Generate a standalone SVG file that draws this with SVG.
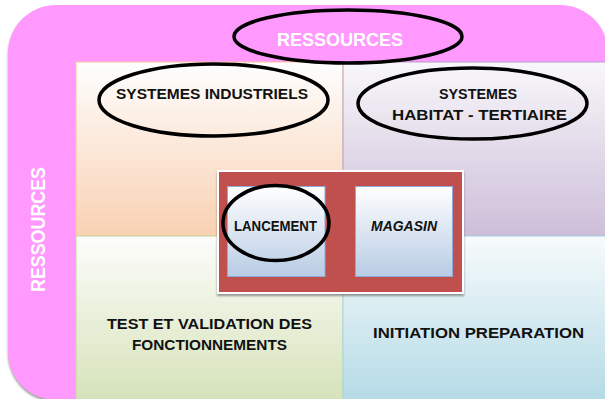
<svg xmlns="http://www.w3.org/2000/svg" width="605" height="399" viewBox="0 0 605 399">
  <style>
    .lbl { font-family: "Liberation Sans", Arial, sans-serif; font-weight: bold; font-size: 14px; fill: #111; text-anchor: middle; }
    .res { font-family: "Liberation Sans", Arial, sans-serif; font-weight: bold; fill: #ffffff; text-anchor: middle; }
    .ring { fill: none; stroke: #000; stroke-width: 3.5; }
    .box { stroke: #8eaadb; stroke-width: 1; }
  </style>
  <defs>
    <linearGradient id="gTL" x1="0" y1="0" x2="0" y2="1">
      <stop offset="0" stop-color="#fefefe"/>
      <stop offset="1" stop-color="#f9d1b2"/>
    </linearGradient>
    <linearGradient id="gTR" x1="0" y1="0" x2="0" y2="1">
      <stop offset="0" stop-color="#f8f7fa"/>
      <stop offset="1" stop-color="#cdbed9"/>
    </linearGradient>
    <linearGradient id="gBL" x1="0" y1="0" x2="0" y2="1">
      <stop offset="0" stop-color="#fdfdfc"/>
      <stop offset="1" stop-color="#d5e2b8"/>
    </linearGradient>
    <linearGradient id="gBR" x1="0" y1="0" x2="0" y2="1">
      <stop offset="0" stop-color="#f7fbfc"/>
      <stop offset="1" stop-color="#b4dae6"/>
    </linearGradient>
    <linearGradient id="gBox" x1="0" y1="0" x2="0" y2="1">
      <stop offset="0" stop-color="#ffffff"/>
      <stop offset="1" stop-color="#b8cce4"/>
    </linearGradient>
    <filter id="sh" x="-5%" y="-5%" width="110%" height="110%">
      <feDropShadow dx="0" dy="2" stdDeviation="1.2" flood-color="#555" flood-opacity="0.6"/>
    </filter>
  </defs>

  <rect width="605" height="399" fill="#ffffff"/>

  <!-- pink resources frame -->
  <g id="frame">
    <rect x="8" y="5" width="600" height="395" rx="48" ry="48" fill="#ff99fe" filter="url(#sh)"/>
  </g>

  <!-- quadrants -->
  <g id="q-tl">
    <rect x="76" y="62" width="267" height="174" fill="url(#gTL)" stroke="#f5c6a0" stroke-width="1"/>
  </g>
  <g id="q-tr">
    <rect x="343" y="62" width="265" height="174" fill="url(#gTR)" stroke="#b3a2c7" stroke-width="1"/>
  </g>
  <g id="q-bl">
    <rect x="76" y="236" width="267" height="166" fill="url(#gBL)" stroke="#c3d69b" stroke-width="1"/>
  </g>
  <g id="q-br">
    <rect x="343" y="236" width="265" height="166" fill="url(#gBR)" stroke="#a5d5e3" stroke-width="1"/>
  </g>

  <!-- top resources label -->
  <g id="ressources-top">
    <ellipse class="ring" cx="348" cy="36.5" rx="114" ry="26.5"/>
    <text class="res" x="340" y="46" font-size="18" textLength="126" lengthAdjust="spacingAndGlyphs">RESSOURCES</text>
  </g>

  <!-- left resources label -->
  <g id="ressources-left">
    <text class="res" transform="translate(45,229.5) rotate(-90)" x="0" y="0" font-size="21" font-weight="normal" textLength="125" lengthAdjust="spacingAndGlyphs">RESSOURCES</text>
  </g>

  <g id="systemes-industriels">
    <ellipse class="ring" cx="213.5" cy="100" rx="114.5" ry="36"/>
    <text class="lbl" x="212" y="99" textLength="192" lengthAdjust="spacingAndGlyphs">SYSTEMES INDUSTRIELS</text>
  </g>

  <g id="systemes-habitat">
    <ellipse class="ring" cx="472.5" cy="103.5" rx="114.5" ry="35.5"/>
    <text class="lbl" x="478" y="99" textLength="78" lengthAdjust="spacingAndGlyphs">SYSTEMES</text>
    <text class="lbl" x="479.5" y="120" textLength="175" lengthAdjust="spacingAndGlyphs">HABITAT - TERTIAIRE</text>
  </g>

  <!-- central block -->
  <g id="centre">
    <rect x="217" y="170" width="247" height="124" fill="#ffffff" filter="url(#sh)"/>
    <rect x="219" y="172" width="243" height="120" fill="#c0504d"/>
  </g>

  <g id="lancement">
    <rect class="box" x="227.5" y="186.5" width="97.5" height="90" fill="url(#gBox)"/>
    <text class="lbl" x="275.5" y="230.5" font-size="13" textLength="83" lengthAdjust="spacingAndGlyphs">LANCEMENT</text>
    <ellipse class="ring" cx="276" cy="223" rx="53" ry="37.5"/>
  </g>

  <g id="magasin">
    <rect class="box" x="355.5" y="186.5" width="97" height="90" fill="url(#gBox)"/>
    <text class="lbl" x="404" y="230.5" font-size="13" font-style="italic" textLength="66" lengthAdjust="spacingAndGlyphs">MAGASIN</text>
  </g>

  <g id="test-validation">
    <text class="lbl" x="209.5" y="329" textLength="205" lengthAdjust="spacingAndGlyphs">TEST ET VALIDATION DES</text>
    <text class="lbl" x="209.5" y="350" textLength="155" lengthAdjust="spacingAndGlyphs">FONCTIONNEMENTS</text>
  </g>

  <g id="initiation-preparation">
    <text class="lbl" x="478.5" y="338" textLength="211" lengthAdjust="spacingAndGlyphs">INITIATION PREPARATION</text>
  </g>

  <g id="connectors"></g>
</svg>
